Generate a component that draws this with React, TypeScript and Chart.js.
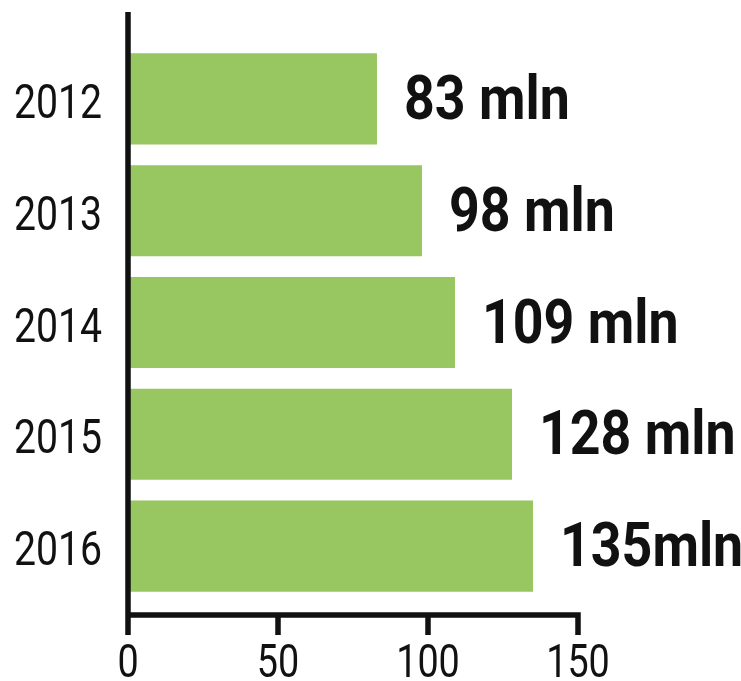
import React, { useEffect, useRef } from "react";
import { Chart, registerables } from "chart.js";

Chart.register(...registerables);

const years = ["2012", "2013", "2014", "2015", "2016"];
const values = [83, 98, 109, 128, 135];
const valueLabels = ["83 mln", "98 mln", "109 mln", "128 mln", "135mln"];
const xTicks = [0, 50, 100, 150];

const FONT = 'Roboto, "DejaVu Sans Condensed", sans-serif';
const GREEN = "#98c660";
const INK = "#111111";

function drawText(ctx: any, text: string, x: number, baseline: number, align: string, sx: number) {
  ctx.save();
  ctx.translate(x, baseline);
  ctx.scale(sx, 1);
  ctx.textAlign = align;
  ctx.textBaseline = "alphabetic";
  ctx.fillText(text, 0, 0);
  ctx.restore();
}

const axisPlugin = {
  id: "customAxes",
  afterDatasetsDraw(chart: any) {
    const { ctx, chartArea, scales } = chart;
    const xs = scales.x;
    const ys = scales.y;
    const x0 = xs.getPixelForValue(0);
    const xEnd = xs.getPixelForValue(xTicks[xTicks.length - 1]);
    const axisY = chartArea.bottom + 13;
    ctx.save();
    ctx.strokeStyle = INK;
    ctx.lineWidth = 5.5;
    ctx.lineCap = "butt";
    ctx.beginPath();
    ctx.moveTo(x0, 12);
    ctx.lineTo(x0, axisY + 2.75);
    ctx.moveTo(x0 - 2.75, axisY);
    ctx.lineTo(xEnd + 2.75, axisY);
    xTicks.forEach((t) => {
      const px = xs.getPixelForValue(t);
      ctx.moveTo(px, axisY);
      ctx.lineTo(px, axisY + 20);
    });
    ctx.stroke();

    ctx.fillStyle = INK;
    // category labels
    ctx.font = `400 49px ${FONT}`;
    years.forEach((y, i) => {
      const py = ys.getPixelForValue(i);
      drawText(ctx, y, x0 - 26, py + 19, "right", 0.8);
    });
    // x tick labels
    ctx.font = `400 46px ${FONT}`;
    xTicks.forEach((t) => {
      const px = xs.getPixelForValue(t);
      drawText(ctx, String(t), px, axisY + 62, "center", 0.82);
    });

    // value labels
    const meta = chart.getDatasetMeta(0);
    ctx.font = `bold 61px ${FONT}`;
    meta.data.forEach((bar: any, i: number) => {
      drawText(ctx, valueLabels[i], bar.x + 27, bar.y + 20, "left", 0.88);
    });
    ctx.restore();
  },
};

export default function App() {
  const ref = useRef<HTMLCanvasElement | null>(null);
  useEffect(() => {
    if (!ref.current) return;
    const chart = new Chart(ref.current, {
      type: "bar",
      data: {
        labels: years,
        datasets: [
          {
            data: values,
            backgroundColor: GREEN,
            borderWidth: 0,
            barPercentage: 0.815,
            categoryPercentage: 1,
          },
        ],
      },
      options: {
        indexAxis: "y",
        animation: false,
        responsive: false,
        maintainAspectRatio: false,
        layout: { padding: { top: 43, right: 163, bottom: 0, left: 0 } },
        plugins: { legend: { display: false }, tooltip: { enabled: false } },
        scales: {
          x: {
            type: "linear",
            min: 0,
            max: 150,
            afterBuildTicks: (scale: any) => {
              scale.ticks = xTicks.map((v) => ({ value: v }));
            },
            afterFit: (scale: any) => {
              scale.height = 79;
            },
            grid: { display: false, drawTicks: false },
            border: { display: false },
            ticks: { display: false },
          },
          y: {
            type: "category",
            afterFit: (scale: any) => {
              scale.width = 128;
            },
            grid: { display: false, drawTicks: false },
            border: { display: false },
            ticks: { display: false },
          },
        },
      },
      plugins: [axisPlugin],
    });
    return () => chart.destroy();
  }, []);
  return (
    <div style={{ position: "fixed", left: 0, top: 0, width: 741, height: 681, background: "#fff" }}>
      <canvas ref={ref} width={741} height={681} style={{ width: 741, height: 681, display: "block" }} />
    </div>
  );
}
